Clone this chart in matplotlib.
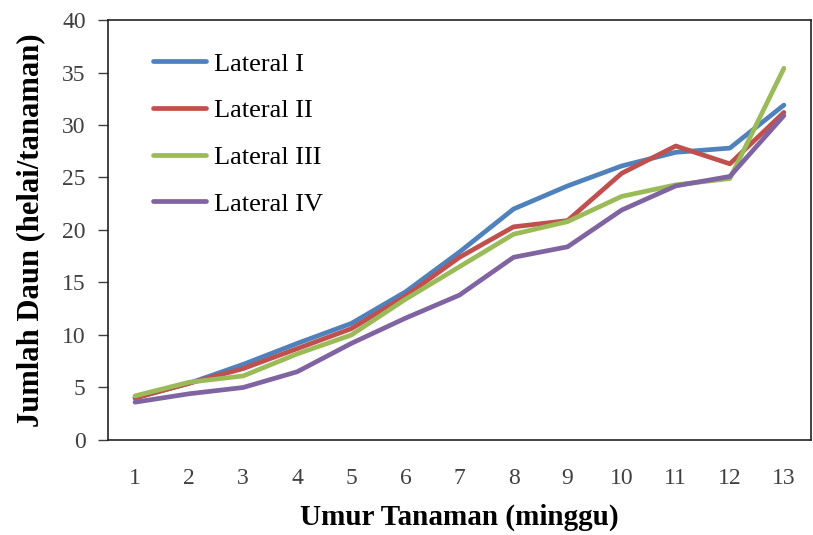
import matplotlib.pyplot as plt

# data
minggu = list(range(1, 14))
lateral_1 = [4.0, 5.4, 7.2, 9.2, 11.1, 14.1, 17.9, 22.0, 24.2, 26.1, 27.4, 27.8, 31.9]
lateral_2 = [4.0, 5.4, 6.8, 8.7, 10.6, 13.7, 17.4, 20.3, 20.9, 25.4, 28.0, 26.3, 31.2]
lateral_3 = [4.2, 5.5, 6.1, 8.2, 10.0, 13.4, 16.5, 19.6, 20.8, 23.2, 24.3, 24.9, 35.4]
lateral_4 = [3.6, 4.4, 5.0, 6.5, 9.2, 11.6, 13.8, 17.4, 18.4, 21.9, 24.2, 25.1, 30.9]

series = [
    ('Lateral I', lateral_1, '#4F81BD'),
    ('Lateral II', lateral_2, '#C0504D'),
    ('Lateral III', lateral_3, '#9BBB59'),
    ('Lateral IV', lateral_4, '#8064A2'),
]

plt.rcParams['font.family'] = ['Liberation Serif', 'DejaVu Serif']

fig = plt.figure(figsize=(8.13, 5.35), dpi=100)
ax = fig.add_axes([0.1328, 0.1776, 0.8647, 0.785])

for name, vals, col in series:
    ax.plot(minggu, vals, color=col, lw=3.4, label=name, solid_capstyle='round')

ax.set_xlim(0.5, 13.5)
ax.set_ylim(0, 40)
ax.set_yticks(range(0, 41, 5))
ax.set_xticks(minggu)
ax.tick_params(axis='y', direction='out', length=7, width=1, labelsize=17, colors='#404040', pad=9)
ax.tick_params(axis='x', length=0, labelsize=17, colors='#404040', pad=20)
for sp in ax.spines.values():
    sp.set_linewidth(1.2)
    sp.set_color('#222222')

ax.set_xlabel('Umur Tanaman (minggu)', fontsize=21, fontweight='bold', labelpad=11)
ax.set_ylabel('Jumlah Daun (helai/tanaman)', fontsize=22, fontweight='bold', labelpad=12)

leg = ax.legend(loc='upper left', bbox_to_anchor=(0.03, 0.98), frameon=False,
                fontsize=19, handlelength=2.0, handletextpad=0.3, labelspacing=0.88)

plt.savefig('out.png', dpi=100)
